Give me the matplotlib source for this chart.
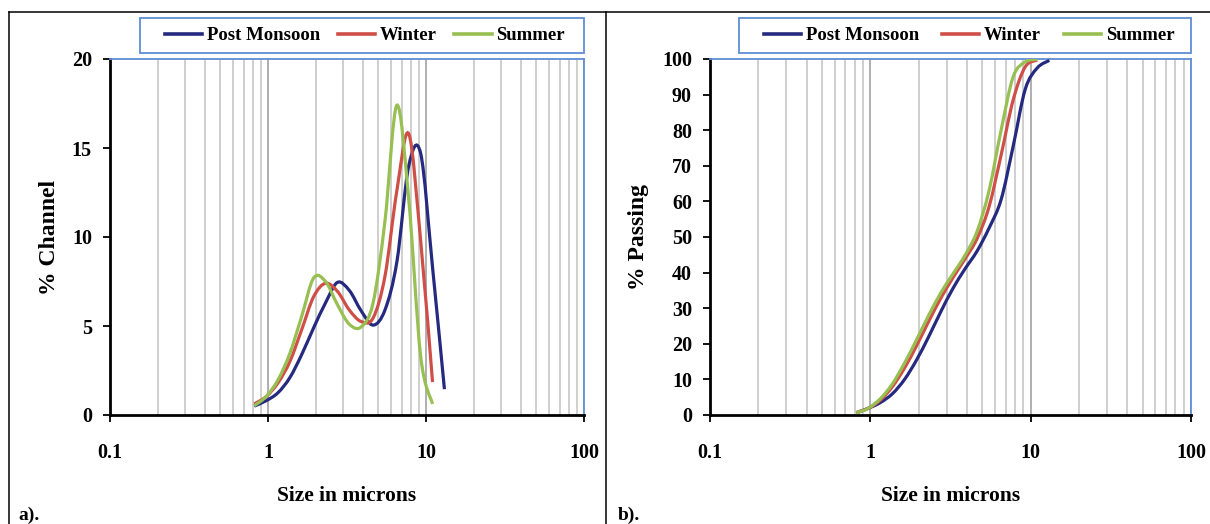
import numpy as np
import matplotlib
matplotlib.use('Agg')
import matplotlib.pyplot as plt
from matplotlib.path import Path
from matplotlib.patches import PathPatch, Rectangle
from matplotlib.lines import Line2D
from matplotlib.ticker import LogLocator, FixedLocator, FuncFormatter

plt.rcParams['font.family'] = ['Liberation Serif', 'DejaVu Serif']
plt.rcParams['font.weight'] = 'bold'

# particle size channels (microns)
sizes = [0.818, 0.972, 1.156, 1.375, 1.635, 1.945, 2.312, 2.750, 3.270,
         3.889, 4.625, 5.500, 6.540, 7.778, 9.250, 11.00, 13.08]

# % channel
post_monsoon_ch = [0.5, 0.8, 1.25, 2.1, 3.4, 4.9, 6.3, 7.45, 7.0, 5.85,
                   5.05, 5.9, 8.6, 14.0, 14.7, 8.3, 1.45]
winter_ch = [0.62, 1.03, 1.8, 3.0, 4.8, 6.65, 7.4, 6.95, 5.9, 5.25, 5.45,
             7.8, 12.6, 15.8, 9.8, 1.85]
summer_ch = [0.52, 1.03, 1.97, 3.46, 5.55, 7.7, 7.5, 6.2, 5.1, 4.95, 6.3,
             10.9, 17.4, 12.1, 3.3, 0.62]

# % passing
post_monsoon_pass = [0.6, 1.9, 3.5, 6.0, 10.0, 15.5, 22.0, 29.0, 35.5, 41.0,
                     46.0, 52.5, 60.5, 75.5, 91.5, 97.5, 99.6]
winter_pass = [0.7, 1.9, 4.2, 8.0, 13.2, 19.5, 26.3, 32.8, 38.5, 43.8, 49.5,
               58.5, 73.0, 88.5, 97.8, 99.7]
summer_pass = [0.6, 1.9, 4.6, 8.8, 14.6, 21.2, 28.0, 34.3, 39.6, 44.8, 51.5,
               63.0, 80.0, 95.0, 99.2, 99.9]

series_names = ['Post Monsoon', 'Winter', 'Summer']
colors = ['#252a80', '#cf4f48', '#98bf52']
blue_edge = '#5f8fd4'


def smooth_path(xs, ys):
    # Excel-like smoothed line: cubic Bezier through points, in log-x space
    lx = np.log10(np.asarray(xs, dtype=float))
    y = np.asarray(ys, dtype=float)
    n = len(lx)
    vx, vy = [lx[0]], [y[0]]
    codes = [Path.MOVETO]
    for i in range(n - 1):
        a = i - 1 if i > 0 else i
        d = i + 2 if i + 2 < n else i + 1
        vx += [lx[i] + (lx[i + 1] - lx[a]) / 6,
               lx[i + 1] - (lx[d] - lx[i]) / 6, lx[i + 1]]
        vy += [y[i] + (y[i + 1] - y[a]) / 6,
               y[i + 1] - (y[d] - y[i]) / 6, y[i + 1]]
        codes += [Path.CURVE4] * 3
    return Path(np.column_stack([10 ** np.array(vx), vy]), codes)


def style_axes(ax, ymax, ystep, ylabel, ylabel_x, box_x0, leg_box):
    ax.set_xscale('log')
    ax.set_xlim(0.1, 100)
    ax.set_ylim(0, ymax)
    ax.xaxis.set_major_locator(FixedLocator([0.1, 1, 10, 100]))
    ax.xaxis.set_major_formatter(FuncFormatter(lambda v, p: '%g' % v))
    ax.xaxis.set_minor_locator(LogLocator(base=10, subs=np.arange(2, 10)))
    ax.set_yticks(np.arange(0, ymax + 1, ystep))
    ax.grid(which='minor', axis='x', color='#c2c2c2', lw=1.1)
    ax.grid(which='major', axis='x', color='#9a9a9a', lw=1.1)
    ax.set_axisbelow(True)
    ax.tick_params(axis='x', which='major', direction='out', length=5,
                   width=1.3, pad=15, labelsize=14.5)
    ax.tick_params(axis='x', which='minor', length=0)
    ax.tick_params(axis='y', direction='out', length=5, width=1.3, pad=8,
                   labelsize=14.5)
    for s in ['left', 'bottom']:
        ax.spines[s].set_color('black')
        ax.spines[s].set_linewidth(2.0)
    for s in ['top', 'right']:
        ax.spines[s].set_color(blue_edge)
        ax.spines[s].set_linewidth(1.3)
    ax.set_xlabel('Size in microns', fontsize=15.5, fontweight='bold')
    ax.xaxis.set_label_coords(0.5, -0.2)
    ax.set_ylabel(ylabel, fontsize=17, fontweight='bold')
    ax.yaxis.set_label_coords(ylabel_x, 0.5)
    # legend frame
    ax.add_patch(Rectangle((box_x0, 1.0169), 1.0 - box_x0, 0.098,
                           transform=ax.transAxes, clip_on=False,
                           facecolor='white', edgecolor=blue_edge, lw=1.3))
    handles = [Line2D([], [], color=c, lw=2.6) for c in colors]
    ax.legend(handles, series_names, loc='center left', ncol=3,
              bbox_to_anchor=leg_box, mode='expand', borderaxespad=0,
              fontsize=13.5, handlelength=2.0, handletextpad=0.25,
              borderpad=0.2, frameon=False)


fig = plt.figure(figsize=(12.1, 5.24), dpi=100)
ax_1 = fig.add_axes([110 / 1210, 109 / 524, 474 / 1210, 356 / 524])
ax_2 = fig.add_axes([710 / 1210, 109 / 524, 481 / 1210, 356 / 524])

for ys, c in zip([post_monsoon_ch, winter_ch, summer_ch], colors):
    ax_1.add_patch(PathPatch(smooth_path(sizes[:len(ys)], ys), fill=False,
                             edgecolor=c, lw=2.3, zorder=3))
for ys, c in zip([post_monsoon_pass, winter_pass, summer_pass], colors):
    ax_2.add_patch(PathPatch(smooth_path(sizes[:len(ys)], ys), fill=False,
                             edgecolor=c, lw=2.3, zorder=3))

style_axes(ax_1, 20, 5, '% Channel', -0.105, 0.0633,
           (0.108, 1.0169, 0.86, 0.098))
style_axes(ax_2, 100, 10, '% Passing', -0.127, 0.0603,
           (0.104, 1.0169, 0.87, 0.098))

# panel frames
top = 1 - 11.5 / 524
for xy in [([9 / 1210, 9 / 1210], [0, top]),
           ([9 / 1210, 1], [top, top]),
           ([605.7 / 1210, 605.7 / 1210], [0, top])]:
    fig.add_artist(Line2D(xy[0], xy[1], color='black', lw=1.1))

fig.text(18 / 1210, 1 - 507 / 524, 'a).', fontsize=14, fontweight='bold',
         va='top', ha='left')
fig.text(618 / 1210, 1 - 507 / 524, 'b).', fontsize=14, fontweight='bold',
         va='top', ha='left')

fig.savefig('out.png', dpi=100)
